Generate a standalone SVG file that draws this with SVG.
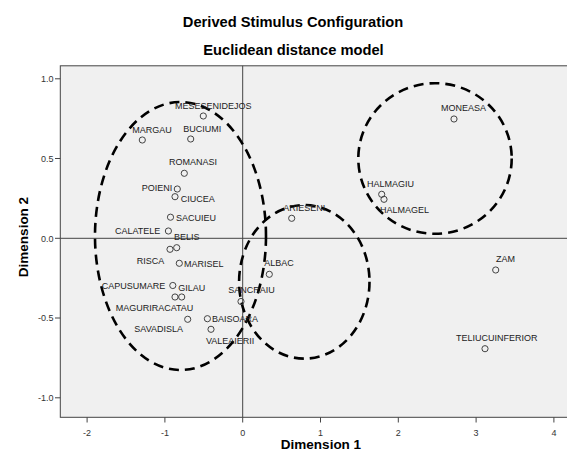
<svg xmlns="http://www.w3.org/2000/svg" width="567" height="455" viewBox="0 0 567 455">
<style>
.title{font-family:"Liberation Sans",Arial,sans-serif;font-size:14.7px;font-weight:bold;fill:#000;text-anchor:middle}
.axt{font-family:"Liberation Sans",Arial,sans-serif;font-size:13.5px;font-weight:bold;fill:#000;text-anchor:middle}
.tick{font-family:"Liberation Sans",Arial,sans-serif;font-size:9px;fill:#333}
.lbl{font-family:"Liberation Sans",Arial,sans-serif;font-size:9px;fill:#222}
.mk{fill:none;stroke:#444;stroke-width:1}
.grp{fill:none;stroke:#000;stroke-width:2.6;stroke-dasharray:10 6}
.ax{stroke:#444;stroke-width:1;fill:none}
</style>
<rect width="567" height="455" fill="#fff"/>
<text class="title" x="293" y="27">Derived Stimulus Configuration</text>
<text class="title" x="293.5" y="55">Euclidean distance model</text>
<g id="plot">
<rect x="60.3" y="65.8" width="510" height="351.5" fill="#f0f0f0" stroke="#444" stroke-width="1"/>
<line class="ax" x1="242.7" y1="65.8" x2="242.7" y2="417.3" stroke-width="1.3"/>
<line class="ax" x1="60.3" y1="238.3" x2="567" y2="238.3" stroke-width="1.3"/>
</g>
<g id="xaxis">
<path class="ax" d="M87.1 417.3v5.2M164.9 417.3v5.2M242.7 417.3v5.2M320.5 417.3v5.2M398.3 417.3v5.2M476.1 417.3v5.2M553.9 417.3v5.2"/>
<g class="tick" text-anchor="middle">
<text x="87.1" y="435.5">-2</text><text x="164.9" y="435.5">-1</text><text x="242.7" y="435.5">0</text><text x="320.5" y="435.5">1</text><text x="398.3" y="435.5">2</text><text x="476.1" y="435.5">3</text><text x="553.9" y="435.5">4</text>
</g>
<text class="axt" x="321" y="449">Dimension 1</text>
</g>
<g id="yaxis">
<path class="ax" d="M55 78.8h5.3M55 158.5h5.3M55 238.3h5.3M55 318h5.3M55 397.8h5.3"/>
<g class="tick" text-anchor="end">
<text x="53.5" y="82">1.0</text><text x="53.5" y="161.7">0.5</text><text x="53.5" y="241.5">0.0</text><text x="53.5" y="321.2">-0.5</text><text x="53.5" y="401">-1.0</text>
</g>
<text class="axt" transform="translate(28 237) rotate(-90)">Dimension 2</text>
</g>
<g id="groups">
<ellipse id="group-left" class="grp" cx="180.5" cy="236" rx="85.5" ry="134"/>
<ellipse id="group-middle" class="grp" cx="304.3" cy="281.8" rx="65.2" ry="76.8"/>
<ellipse id="group-right" class="grp" cx="435" cy="158.5" rx="76.7" ry="75.3"/>
</g>
<g id="points">
<g id="mesesenidejos"><circle class="mk" cx="203.3" cy="116" r="3.1"/><text class="lbl" x="175" y="109">MESESENIDEJOS</text></g>
<g id="margau"><circle class="mk" cx="142.3" cy="140" r="3.1"/><text class="lbl" x="132.3" y="132.5">MARGAU</text></g>
<g id="buciumi"><circle class="mk" cx="190.7" cy="139" r="3.1"/><text class="lbl" x="183.3" y="131.5">BUCIUMI</text></g>
<g id="romanasi"><circle class="mk" cx="184.3" cy="173.3" r="3.1"/><text class="lbl" x="169" y="165">ROMANASI</text></g>
<g id="poieni"><circle class="mk" cx="177.3" cy="189" r="3.1"/><text class="lbl" x="141.7" y="191.3">POIENI</text></g>
<g id="ciucea"><circle class="mk" cx="175" cy="196.7" r="3.1"/><text class="lbl" x="180.7" y="202.3">CIUCEA</text></g>
<g id="sacuieu"><circle class="mk" cx="170.5" cy="217.2" r="3.1"/><text class="lbl" x="176" y="221">SACUIEU</text></g>
<g id="calatele"><circle class="mk" cx="168.4" cy="231" r="3.1"/><text class="lbl" x="115" y="234.3">CALATELE</text></g>
<g id="belis"><circle class="mk" cx="176.7" cy="247.7" r="3.1"/><text class="lbl" x="174" y="240.3">BELIS</text></g>
<g id="risca"><circle class="mk" cx="170" cy="249.3" r="3.1"/><text class="lbl" x="136.7" y="264">RISCA</text></g>
<g id="marisel"><circle class="mk" cx="179.3" cy="263.3" r="3.1"/><text class="lbl" x="184" y="266.5">MARISEL</text></g>
<g id="capusumare"><circle class="mk" cx="172.8" cy="285.5" r="3.1"/><text class="lbl" x="101.7" y="289.2">CAPUSUMARE</text></g>
<g id="gilau"><circle class="mk" cx="175" cy="297" r="3.1"/><circle class="mk" cx="181.7" cy="297" r="3.1"/><text class="lbl" x="178.3" y="291">GILAU</text></g>
<g id="maguriracatau"><circle class="mk" cx="187.7" cy="319.3" r="3.1"/><text class="lbl" x="115.7" y="311.3">MAGURIRACATAU</text></g>
<g id="savadisla"><text class="lbl" x="134.3" y="332">SAVADISLA</text></g>
<g id="baisoara"><circle class="mk" cx="207.4" cy="318.7" r="3.1"/><text class="lbl" x="212" y="322">BAISOARA</text></g>
<g id="valeaierii"><circle class="mk" cx="211" cy="329.3" r="3.1"/><text class="lbl" x="206" y="343.6">VALEAIERII</text></g>
<g id="sancraiu"><circle class="mk" cx="241" cy="301.5" r="3.1"/><text class="lbl" x="228.3" y="292.6">SANCRAIU</text></g>
<g id="albac"><circle class="mk" cx="269.3" cy="274.3" r="3.1"/><text class="lbl" x="264.3" y="266">ALBAC</text></g>
<g id="arieseni"><circle class="mk" cx="291.7" cy="218.3" r="3.1"/><text class="lbl" x="283.3" y="210.6">ARIESENI</text></g>
<g id="halmagiu"><circle class="mk" cx="381.7" cy="194.3" r="3.1"/><text class="lbl" x="367" y="187.3">HALMAGIU</text></g>
<g id="halmagel"><circle class="mk" cx="384" cy="199.3" r="3.1"/><text class="lbl" x="380" y="212.6">HALMAGEL</text></g>
<g id="moneasa"><circle class="mk" cx="454" cy="119" r="3.1"/><text class="lbl" x="441" y="111">MONEASA</text></g>
<g id="zam"><circle class="mk" cx="495.7" cy="270" r="3.1"/><text class="lbl" x="496" y="262.3">ZAM</text></g>
<g id="teliucuinferior"><circle class="mk" cx="485" cy="348.7" r="3.1"/><text class="lbl" x="456" y="340.6">TELIUCUINFERIOR</text></g>
</g>
</svg>
